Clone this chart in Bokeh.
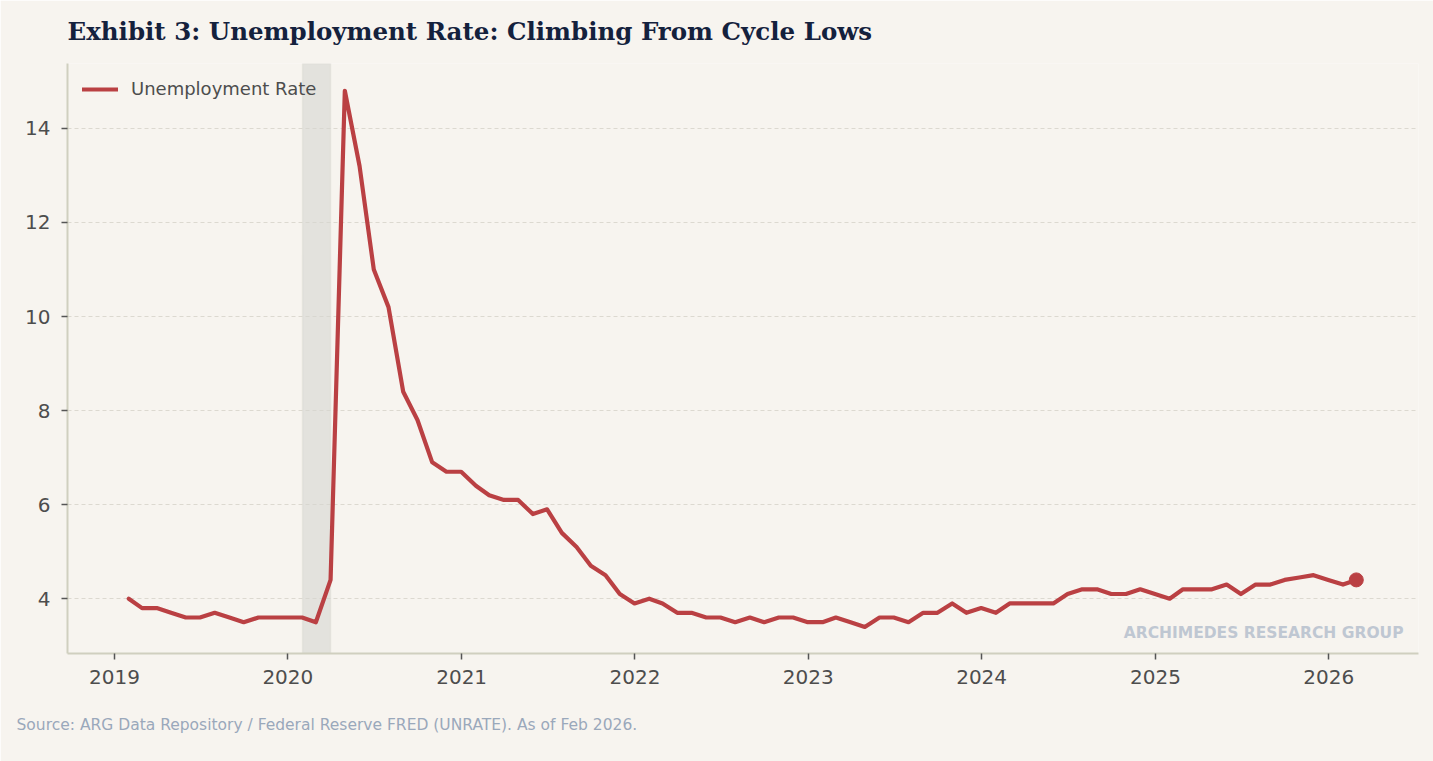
import pandas as pd
from bokeh.plotting import figure
from bokeh.models import (Range1d, FixedTicker, DatetimeTickFormatter, BoxAnnotation,
                          Label, Title, Legend, LegendItem, ColumnDataSource)
from bokeh.embed import file_html
from bokeh.resources import INLINE

# ---- data ----
start_month = "2019-01-31"
unemployment_rate = [
    4.0, 3.8, 3.8, 3.7, 3.6, 3.6, 3.7, 3.6, 3.5, 3.6, 3.6, 3.6,      # 2019
    3.6, 3.5, 4.4, 14.8, 13.2, 11.0, 10.2, 8.4, 7.8, 6.9, 6.7, 6.7,  # 2020
    6.4, 6.2, 6.1, 6.1, 5.8, 5.9, 5.4, 5.1, 4.7, 4.5, 4.1, 3.9,      # 2021
    4.0, 3.9, 3.7, 3.7, 3.6, 3.6, 3.5, 3.6, 3.5, 3.6, 3.6, 3.5,      # 2022
    3.5, 3.6, 3.5, 3.4, 3.6, 3.6, 3.5, 3.7, 3.7, 3.9, 3.7, 3.8,      # 2023
    3.7, 3.9, 3.9, 3.9, 3.9, 4.1, 4.2, 4.2, 4.1, 4.1, 4.2, 4.1,      # 2024
    4.0, 4.2, 4.2, 4.2, 4.3, 4.1, 4.3, 4.3, 4.4, 4.45, 4.5, 4.4,     # 2025
    4.3, 4.4,                                                          # 2026
]
dates = pd.date_range(start_month, periods=len(unemployment_rate), freq="ME")
tick_years = [2019, 2020, 2021, 2022, 2023, 2024, 2025, 2026]
y_ticks = [4, 6, 8, 10, 12, 14]
recession_start = "2020-02-01"
recession_end = "2020-03-31"
x_start, x_end = "2018-09-24", "2026-07-09"
y_start, y_end = 2.835, 15.38

title_text = "Exhibit 3: Unemployment Rate: Climbing From Cycle Lows"
source_text = "Source: ARG Data Repository / Federal Reserve FRED (UNRATE). As of Feb 2026."
watermark_text = "ARCHIMEDES RESEARCH GROUP"
series_name = "Unemployment Rate"

# ---- style ----
BG = "#f7f4ef"
LINE = "#ba4043"
SPINE = "#d0cfbf"
TICKCOL = "#555555"
LABELCOL = "#4d4d4d"


def ms(d):
    return pd.Timestamp(d).value / 1e6


src = ColumnDataSource(dict(x=dates, y=unemployment_rate))

p = figure(width=1433, height=761, x_axis_type="datetime",
           output_backend="svg", toolbar_location=None,
           x_range=Range1d(ms(x_start), ms(x_end)),
           y_range=Range1d(y_start, y_end),
           min_border_left=67, min_border_right=15,
           min_border_top=61, min_border_bottom=108)

p.background_fill_color = BG
p.border_fill_color = BG
p.outline_line_color = None

p.title.text = title_text
p.title.text_font = "DejaVu Serif"
p.title.text_font_style = "bold"
p.title.text_font_size = "24.5px"
p.title.text_color = "#14213d"
p.title.align = "left"
p.title.vertical_align = "top"
p.title.standoff = 32

# recession shading
p.add_layout(BoxAnnotation(left=ms(recession_start), right=ms(recession_end),
                           fill_color="#d6d5d0", fill_alpha=0.6,
                           line_color="#cfcfca", line_width=1.5, level="underlay"))

r = p.line("x", "y", source=src, line_color=LINE, line_width=4.2,
           line_join="round", line_cap="round")
p.scatter([dates[-1]], [unemployment_rate[-1]], size=14, color=LINE)

legend = Legend(items=[LegendItem(label=series_name, renderers=[r])],
                location="top_left")
legend.background_fill_alpha = 0
legend.border_line_color = None
legend.label_text_font = "DejaVu Sans"
legend.label_text_font_size = "18px"
legend.label_text_color = LABELCOL
legend.glyph_width = 36
legend.label_standoff = 13
legend.margin = 15
legend.padding = 10
p.add_layout(legend)

# axes
p.xaxis.ticker = FixedTicker(ticks=[ms(f"{yr}-01-01") for yr in tick_years])
fmt = "%Y"
p.xaxis.formatter = DatetimeTickFormatter(years=fmt, months=fmt, days=fmt, hours=fmt,
                                          minutes=fmt, seconds=fmt, milliseconds=fmt,
                                          microseconds=fmt, minsec=fmt, hourmin=fmt)
p.yaxis.ticker = FixedTicker(ticks=y_ticks)
for ax in (p.xaxis, p.yaxis):
    ax.axis_line_color = SPINE
    ax.axis_line_width = 2
    ax.major_tick_line_color = TICKCOL
    ax.major_tick_line_width = 1.5
    ax.major_tick_out = 6
    ax.major_tick_in = 0
    ax.minor_tick_line_color = None
    ax.major_label_text_font = "DejaVu Sans"
    ax.major_label_text_font_size = "20px"
    ax.major_label_text_color = LABELCOL
p.xaxis.major_label_standoff = 10
p.yaxis.major_label_standoff = 11

p.xgrid.grid_line_color = None
p.ygrid.grid_line_color = "#dcd9d0"
p.ygrid.grid_line_dash = "4 3"
p.ygrid.grid_line_width = 1

# watermark
p.add_layout(Label(x=ms(x_end), y=y_start, x_offset=-15, y_offset=12,
                   text=watermark_text, text_align="right", text_baseline="bottom",
                   text_font="DejaVu Sans", text_font_style="bold",
                   text_font_size="15.5px", text_color="#bfc7d2"))

# source note
p.add_layout(Title(text=source_text, align="left", offset=-51, standoff=54,
                   vertical_align="bottom",
                   text_font="DejaVu Sans", text_font_style="normal",
                   text_font_size="15.5px", text_color="#9aa8bb"), "below")

open("out.html", "w").write(file_html(p, INLINE))
